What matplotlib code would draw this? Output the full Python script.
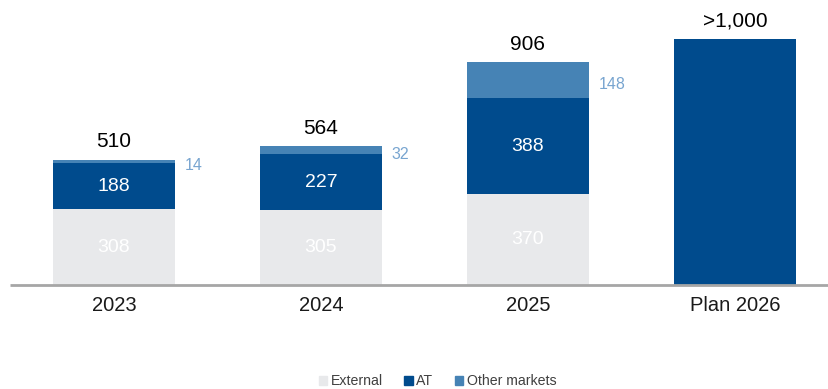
import matplotlib.pyplot as plt
from matplotlib.patches import Patch

plt.rcParams['font.family'] = ['Liberation Sans', 'DejaVu Sans']

years = ["2023", "2024", "2025", "Plan 2026"]
external = [308, 305, 370]
at = [188, 227, 388]
other = [14, 32, 148]
totals = [510, 564, 906]
plan_2026 = 1000
total_labels = ["510", "564", "906", ">1,000"]

c_ext = "#E8E9EB"
c_at = "#004B8D"
c_other = "#4683B5"
c_side = "#78A5D0"

fig = plt.figure(figsize=(8.29, 3.89), dpi=100)
ax = fig.add_axes([0, 0.267, 1, 0.733])

x = list(range(len(years)))
w = 0.59
hist = x[:3]

ax.bar(hist, external, width=w, color=c_ext)
ax.bar(hist, at, width=w, bottom=external, color=c_at)
bottom2 = [e + a for e, a in zip(external, at)]
ax.bar(hist, other, width=w, bottom=bottom2, color=c_other)
ax.bar(x[3], plan_2026, width=w, color=c_at)

# values inside the segments
for i in hist:
    ax.text(i, external[i] / 2, str(external[i]), ha='center', va='center',
            color='white', fontsize=14)
    ax.text(i, external[i] + at[i] / 2, str(at[i]), ha='center', va='center',
            color='white', fontsize=14)
    ax.annotate(str(other[i]), (i + w / 2, bottom2[i] + other[i] / 2),
                xytext=(7, -3), textcoords='offset points', ha='left',
                va='center', color=c_side, fontsize=11.5)

# totals above the bars
tops = totals + [plan_2026]
for i, lab in enumerate(total_labels):
    ax.annotate(lab, (i, tops[i]), xytext=(0, 6), textcoords='offset points',
                ha='center', va='bottom', color='black', fontsize=15)

ax.set_xlim(-0.55, 3.455)
ax.set_ylim(0, 1158)
ax.set_yticks([])
ax.set_xticks(x)
ax.set_xticklabels(years, fontsize=14.5, color='#1a1a1a')
ax.tick_params(axis='x', length=0, pad=8)
for s in ['top', 'right', 'left', 'bottom']:
    ax.spines[s].set_visible(False)
ax.plot([-0.50, 3.455], [0, 0], color='#A6A6A6', lw=2, clip_on=False,
        solid_capstyle='butt')

handles = [Patch(color=c_ext, label="External"),
           Patch(color=c_at, label="AT"),
           Patch(color=c_other, label="Other markets")]
fig.legend(handles=handles, loc='center', bbox_to_anchor=(0.528, 0.02),
           ncol=3, frameon=False, fontsize=10.2, handlelength=0.6,
           handleheight=0.6, handletextpad=0.25, columnspacing=1.5,
           labelcolor='#404040')

fig.savefig("out.png", dpi=100)
